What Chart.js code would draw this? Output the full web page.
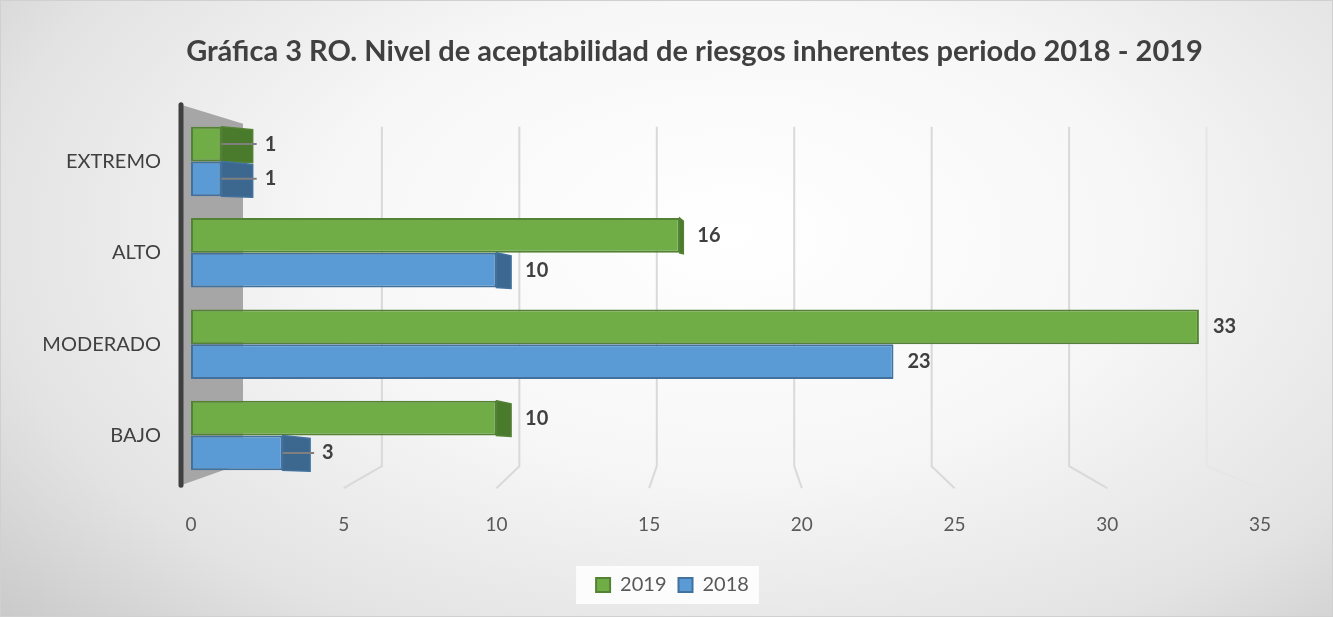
<!DOCTYPE html>
<html lang="es">
<head>
<meta charset="utf-8">
<title>Gráfica 3 RO</title>
<script src="https://cdn.jsdelivr.net/npm/chart.js@4/dist/chart.umd.min.js"></script>
<style>
  html, body { margin: 0; padding: 0; background: #ffffff; }
  #wrap {
    width: 1333px; height: 617px; box-sizing: border-box;
    border: 1px solid #d0d0d0;
    background: radial-gradient(ellipse 75% 95% at 55% 38%, #ffffff 0%, #f7f7f7 40%, #e3e3e3 75%, #c8c8c8 100%);
  }
  canvas { display: block; }
</style>
</head>
<body>
<div id="wrap"><canvas id="riesgosChart" width="1331" height="615"></canvas></div>
<script>
// datos
const categorias = ['EXTREMO', 'ALTO', 'MODERADO', 'BAJO'];
const valores2019 = [1, 16, 33, 10];
const valores2018 = [1, 10, 23, 3];
const ticksX = [0, 5, 10, 15, 20, 25, 30, 35];
const tituloGrafica = 'Gráfica 3 RO. Nivel de aceptabilidad de riesgos inherentes periodo 2018 - 2019';

const verde = '#70ad47', verdeBorde = '#548235', verdeLado = '#4a7a2c';
const azul = '#5b9bd5', azulBorde = '#41719c', azulLado = '#3c6890';
const fuente = 'Lato, "Open Sans", sans-serif';

// pared gris, rejilla en perspectiva y línea del eje vertical (efecto 3D)
const paredPlugin = {
    id: 'pared',
    beforeDatasetsDraw(chart) {
        const { ctx, chartArea } = chart;
        const l = chartArea.left, t = chartArea.top, b = chartArea.bottom;
        ctx.save();
        ctx.fillStyle = '#a6a6a6';
        ctx.beginPath();
        ctx.moveTo(l - 10, t - 11);
        ctx.lineTo(l + 52, t + 8);
        ctx.lineTo(l + 52, b - 18);
        ctx.lineTo(l - 10, b + 4);
        ctx.closePath();
        ctx.fill();

        const xs = chart.scales.x;
        const cx = (chartArea.left + chartArea.right) / 2;
        ctx.lineWidth = 2;
        ticksX.forEach(v => {
            if (v === 0) return;
            const front = xs.getPixelForValue(v);
            const back = cx + (front - cx) * 0.9;
            ctx.strokeStyle = v === ticksX[ticksX.length - 1] ? '#e6e6e6' : '#d9d9d9';
            ctx.beginPath();
            ctx.moveTo(back, t + 11);
            ctx.lineTo(back, b - 15);
            ctx.lineTo(front, b + 7);
            ctx.stroke();
        });

        ctx.strokeStyle = '#404040';
        ctx.lineWidth = 5;
        ctx.lineCap = 'round';
        ctx.beginPath();
        ctx.moveTo(l - 10, t - 11);
        ctx.lineTo(l - 10, b + 4);
        ctx.stroke();
        ctx.restore();
    }
};

// cara lateral de cada barra y etiquetas de valor
const barras3dPlugin = {
    id: 'barras3d',
    afterDatasetsDraw(chart) {
        const { ctx, chartArea } = chart;
        const cx = (chartArea.left + chartArea.right) / 2 + 15;
        ctx.save();
        chart.data.datasets.forEach((ds, di) => {
            const meta = chart.getDatasetMeta(di);
            meta.data.forEach((bar, i) => {
                const top = bar.y - bar.height / 2;
                const bottom = bar.y + bar.height / 2;
                const lado = Math.max(0, (cx - bar.x) * 0.06);
                if (lado > 1) {
                    ctx.fillStyle = ds.sideColor;
                    ctx.strokeStyle = ds.borderColor;
                    ctx.lineWidth = 1.5;
                    ctx.beginPath();
                    ctx.moveTo(bar.x, top);
                    ctx.lineTo(bar.x + lado, top + 3);
                    ctx.lineTo(bar.x + lado, bottom + 1);
                    ctx.lineTo(bar.x, bottom);
                    ctx.closePath();
                    ctx.fill();
                    ctx.stroke();
                }
                const valor = ds.data[i];
                let tx = bar.x + lado + 14;
                if (valor < 5) {
                    ctx.strokeStyle = '#7f7f7f';
                    ctx.lineWidth = 2;
                    ctx.beginPath();
                    ctx.moveTo(bar.x, bar.y);
                    ctx.lineTo(bar.x + lado + 4, bar.y);
                    ctx.stroke();
                    tx = bar.x + lado + 12;
                }
                ctx.fillStyle = '#404040';
                ctx.font = 'bold 20px ' + fuente;
                ctx.textAlign = 'left';
                ctx.textBaseline = 'middle';
                ctx.fillText(String(valor), tx, bar.y);
            });
        });
        ctx.restore();
    }
};

// título y leyenda centrados como en la original; recuadro blanco de la leyenda
const fondoLeyenda = {
    id: 'fondoLeyenda',
    afterLayout(chart) {
        const lg = chart.legend;
        if (lg) {
            lg.left += 42; lg.right += 42;
            lg.top -= 5; lg.bottom -= 5;
        }
        const tb = chart.titleBlock;
        if (tb) {
            tb.left += 64; tb.right += 64;
        }
    },
    beforeDraw(chart) {
        const lg = chart.legend;
        if (!lg || !lg.legendHitBoxes || !lg.legendHitBoxes.length) return;
        const hit = lg.legendHitBoxes;
        const x0 = hit[0].left - 20;
        const last = hit[hit.length - 1];
        const x1 = last.left + last.width + 10;
        const ctx = chart.ctx;
        ctx.save();
        ctx.fillStyle = 'rgba(255,255,255,0.85)';
        ctx.fillRect(x0, hit[0].top - 9, x1 - x0, hit[0].height + 18);
        ctx.restore();
    }
};

new Chart(document.getElementById('riesgosChart'), {
    type: 'bar',
    data: {
        labels: categorias,
        datasets: [
            {
                label: '2019',
                data: valores2019,
                backgroundColor: verde,
                borderColor: verdeBorde,
                sideColor: verdeLado,
                borderWidth: 2,
                borderSkipped: false,
            },
            {
                label: '2018',
                data: valores2018,
                backgroundColor: azul,
                borderColor: azulBorde,
                sideColor: azulLado,
                borderWidth: 2,
                borderSkipped: false,
            },
        ],
    },
    options: {
        indexAxis: 'y',
        responsive: false,
        animation: false,
        categoryPercentage: 0.76,
        barPercentage: 1.0,
        layout: { padding: { left: 0, right: 72, top: 0, bottom: 6 } },
        scales: {
            x: {
                min: 0,
                max: 35,
                afterBuildTicks: (axis) => { axis.ticks = ticksX.map(v => ({ value: v })); },
                grid: { display: false, drawTicks: false },
                border: { display: false },
                ticks: { color: '#595959', font: { family: fuente, size: 19 }, padding: 32 },
            },
            y: {
                grid: { display: false, drawTicks: false },
                border: { display: false },
                ticks: { color: '#404040', font: { family: fuente, size: 20 }, padding: 30 },
                afterFit: (axis) => { axis.width = 190; },
            },
        },
        plugins: {
            title: {
                display: true,
                text: tituloGrafica,
                color: '#404040',
                font: { family: fuente, size: 29, weight: 'bold' },
                padding: { top: 33, bottom: 47 },
            },
            legend: {
                position: 'bottom',
                labels: {
                    color: '#595959',
                    font: { family: fuente, size: 20 },
                    boxWidth: 14,
                    boxHeight: 14,
                    padding: 12,
                    generateLabels: (chart) => chart.data.datasets.map((ds, i) => ({
                        text: ds.label,
                        fillStyle: ds.backgroundColor,
                        strokeStyle: ds.borderColor,
                        lineWidth: 2,
                        fontColor: '#595959',
                        datasetIndex: i,
                    })),
                },
            },
            tooltip: { enabled: false },
        },
    },
    plugins: [paredPlugin, barras3dPlugin, fondoLeyenda],
});
</script>
</body>
</html>
